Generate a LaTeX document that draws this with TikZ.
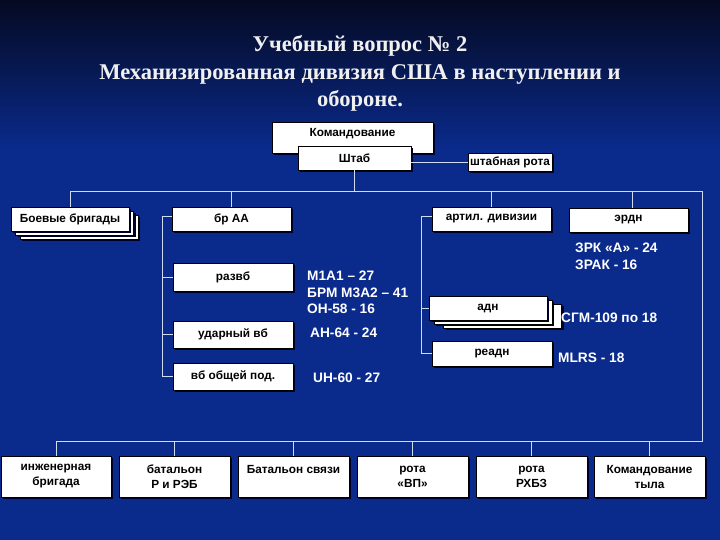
\documentclass[tikz,border=0pt]{standalone}
\usepackage{fontspec}
\setmainfont{Liberation Serif}
\newfontfamily\sansf{Liberation Sans}
\usetikzlibrary{shadows}
\definecolor{bgtop}{HTML}{050A22}
\definecolor{bgblue}{HTML}{0A2A8C}
\definecolor{linec}{HTML}{D0DCF2}
\definecolor{titlec}{HTML}{F0F0F0}
\tikzset{
  box/.style={draw=black, fill=white, line width=0.5pt, inner sep=1pt,
    drop shadow={shadow xshift=2pt, shadow yshift=-2pt, fill=black!85!blue, opacity=1},
    font=\sansf\bfseries\fontsize{11.8}{15}\selectfont, text=black, align=center},
  conn/.style={draw=linec, line width=0.9pt},
  wlabel/.style={anchor=west, inner sep=0pt, text=white, font=\sansf\bfseries\fontsize{13.7}{16}\selectfont},
  titletext/.style={text=titlec, font=\bfseries\fontsize{22.5}{27}\selectfont, inner sep=0pt}
}
\begin{document}
\begin{tikzpicture}[x=1pt, y=-1pt]
\useasboundingbox (0,0) rectangle (720,540);
\shade[top color=bgtop, bottom color=bgblue] (0,0) rectangle (720,150);
\fill[bgblue] (0,149.5) rectangle (720,540);

% title
\node[titletext] (t1) at (360,46) {Учебный вопрос № 2};
\node[titletext] (t2) at (360,74) {Механизированная дивизия США в наступлении и};
\node[titletext] (t3) at (360,101) {обороне.};

% top
\node[box, minimum width=161pt, minimum height=31pt] (komand) at (352.5,137.5) {};
\node[inner sep=0pt, font=\sansf\bfseries\fontsize{11.8}{15}\selectfont] (komandT) at (352.5,134) {Командование};
\node[box, minimum width=113pt, minimum height=24pt] (shtab) at (354.5,158) {Штаб};
\node[box, minimum width=84pt, minimum height=18pt] (shtabrota) at (510,162) {штабная рота};

% coordinates for buses
\coordinate (busR) at (702,191);
\coordinate (botR) at (702,441);
\coordinate (lvTop) at (162,216);
\coordinate (rvTop) at (421,216);

% row 2
\node[box, minimum width=118pt, minimum height=24pt] (boevyeC) at (79,227) {};
\node[box, minimum width=118pt, minimum height=24pt] (boevyeB) at (74.5,223) {};
\node[box, minimum width=118pt, minimum height=24pt] (boevye) at (70,219) {Боевые бригады};
\node[box, minimum width=119pt, minimum height=24pt] (brAA) at (231.5,219) {бр АА};
\node[box, minimum width=119pt, minimum height=24pt] (art) at (491.5,219) {артил. дивизии};
\node[box, minimum width=119pt, minimum height=24pt] (erdn) at (628.5,220) {эрдн};

% left column
\node[box, minimum width=120pt, minimum height=28pt] (razv) at (233,277) {развб};
\node[box, minimum width=120pt, minimum height=27pt] (udar) at (233,334.5) {ударный вб};
\node[box, minimum width=120pt, minimum height=27pt] (vbop) at (233,376.5) {вб общей под.};

% right column
\node[box, minimum width=118pt, minimum height=24pt] (adnC) at (502.5,316) {};
\node[box, minimum width=118pt, minimum height=24pt] (adnB) at (493,312) {};
\node[box, minimum width=118pt, minimum height=24pt] (adn) at (488,308) {адн};
\node[box, minimum width=120pt, minimum height=25pt] (readn) at (492,353.5) {реадн};

% bottom row
\node[box, minimum width=110pt, minimum height=41pt] (ing) at (56,476.5) {инженерная\\бригада};
\node[box, minimum width=111pt, minimum height=41pt] (bat) at (174.5,476.5) {батальон\\Р и РЭБ};
\node[box, minimum width=111pt, minimum height=41pt] (svyaz) at (293.5,476.5) {Батальон связи\\\phantom{Б}};
\node[box, minimum width=111pt, minimum height=41pt] (vp) at (412.5,476.5) {рота\\«ВП»};
\node[box, minimum width=111pt, minimum height=41pt] (rhbz) at (531.5,476.5) {рота\\РХБЗ};
\node[box, minimum width=111pt, minimum height=41pt] (tyl) at (649.5,476.5) {Командование\\тыла};

% connectors
\draw[conn] (shtab.east |- shtabrota) -- (shtabrota.west);
\draw[conn] (shtab.south) -- (shtab.south |- busR);
\draw[conn] (boevye.north) |- (busR) -- (botR) -| (ing.north);
\draw[conn] (brAA.north) -- (brAA.north |- busR);
\draw[conn] (art.north) -- (art.north |- busR);
\draw[conn] ([xshift=4pt]erdn.north) -- ([xshift=4pt]erdn.north |- busR);
\draw[conn] (lvTop -| brAA.west) -- (lvTop) |- (vbop.west);
\draw[conn] (razv.west) -- (razv.west -| lvTop);
\draw[conn] (udar.west) -- (udar.west -| lvTop);
\draw[conn] (rvTop -| art.west) -- (rvTop) |- (readn.west);
\draw[conn] (adn.west) -- (adn.west -| rvTop);
\draw[conn] (bat.north) -- (bat.north |- botR);
\draw[conn] (svyaz.north) -- (svyaz.north |- botR);
\draw[conn] (vp.north) -- (vp.north |- botR);
\draw[conn] (rhbz.north) -- (rhbz.north |- botR);
\draw[conn] (tyl.north) -- (tyl.north |- botR);

% white labels
\node[wlabel] (m1a1) at (307,276) {М1А1 – 27};
\node[wlabel] (brm) at (307,293) {БРМ М3А2 – 41};
\node[wlabel] (oh58) at (307,309) {ОН-58 - 16};
\node[wlabel] (ah64) at (310,333) {АН-64 - 24};
\node[wlabel] (uh60) at (313,378) {UH-60 - 27};
\node[wlabel] (zrk) at (575,248) {ЗРК «А» - 24};
\node[wlabel] (zrak) at (575,265) {ЗРАК - 16};
\node[wlabel] (sgm) at (561,318) {СГМ-109 по 18};
\node[wlabel] (mlrs) at (558,358) {MLRS - 18};
\end{tikzpicture}
\end{document}
